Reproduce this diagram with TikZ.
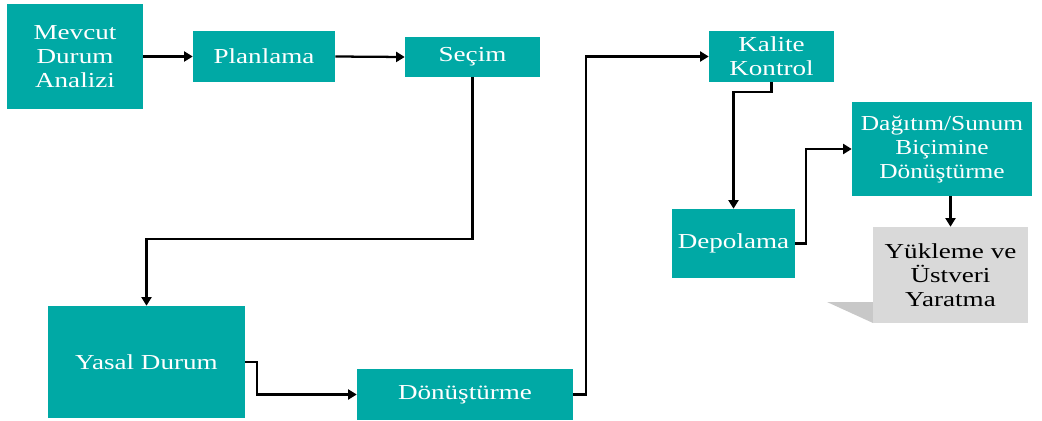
\documentclass[tikz,border=0pt]{standalone}
\usepackage{fontspec}
\setmainfont[FakeStretch=1.27]{Liberation Serif}
\newfontfamily\narrowserif[FakeStretch=1.19]{Liberation Serif}
\usetikzlibrary{arrows.meta}
\definecolor{teal1}{RGB}{0,169,165}
\definecolor{gray1}{RGB}{217,217,217}
\definecolor{gray2}{RGB}{200,200,200}
\tikzset{
  box/.style={fill=teal1, text=white, align=center, inner sep=0pt,
    font=\fontsize{16}{18}\selectfont},
  gbox/.style={fill=gray1, text=black, align=center, inner sep=0pt,
    font=\fontsize{16}{18}\selectfont},
  conn/.style={line width=1.7pt, -{Triangle[length=6.5pt,width=7.5pt]}}
}
\begin{document}
\begin{tikzpicture}[x=0.75pt,y=-0.75pt]
\useasboundingbox (0,0) rectangle (1042,421);
\node[box, minimum width=102pt, minimum height=78.75pt] (mevcut) at (75,56.5) {Mevcut\\Durum\\Analizi};
\node[box, minimum width=106.5pt, minimum height=38.25pt] (plan) at (264,56.5) {Planlama};
\node[box, minimum width=101.25pt, minimum height=30pt] (secim) at (472.5,57) {Seçim};
\node[box, minimum width=93.75pt, minimum height=38.25pt] (kalite) at (771.5,56.5) {Kalite\\Kontrol};
\node[box, minimum width=135pt, minimum height=70.5pt, font=\fontsize{16}{18}\narrowserif] (dagitim) at (942,149) {Dağıtım/Sunum\\Biçimine\\Dönüştürme};
\node[box, minimum width=92.25pt, minimum height=51.75pt] (depo) at (733.5,243.5) {Depolama};
\node[box, minimum width=147.75pt, minimum height=84pt] (yasal) at (146.5,362) {Yasal Durum};
\node[box, minimum width=162pt, minimum height=38.25pt] (donus) at (465,394.5) {Dönüştürme};
\fill[gray2] (827,302) -- (873,302) -- (873,323) -- cycle;
\node[gbox, minimum width=116.25pt, minimum height=72pt] (yukleme) at (950.5,275) {Yükleme ve\\Üstveri\\Yaratma};

\draw[conn] (mevcut.east) -- (plan.west);
\draw[conn] (plan.east) -- (secim.west);
\draw[conn] (secim.south) -- ++(0,162) -| (yasal.north);
\draw[conn] (yasal.east) -- ++(12,0) |- (donus.west);
\draw[conn] (donus.east) -- ++(13,0) |- (kalite.west);
\draw[conn] (kalite.south) -- ++(0,10) -| (depo.north);
\draw[conn] (depo.east) -- ++(11,0) |- (dagitim.west);
\draw[conn] (yukleme.north |- dagitim.south) -- (yukleme.north);
\end{tikzpicture}
\end{document}
